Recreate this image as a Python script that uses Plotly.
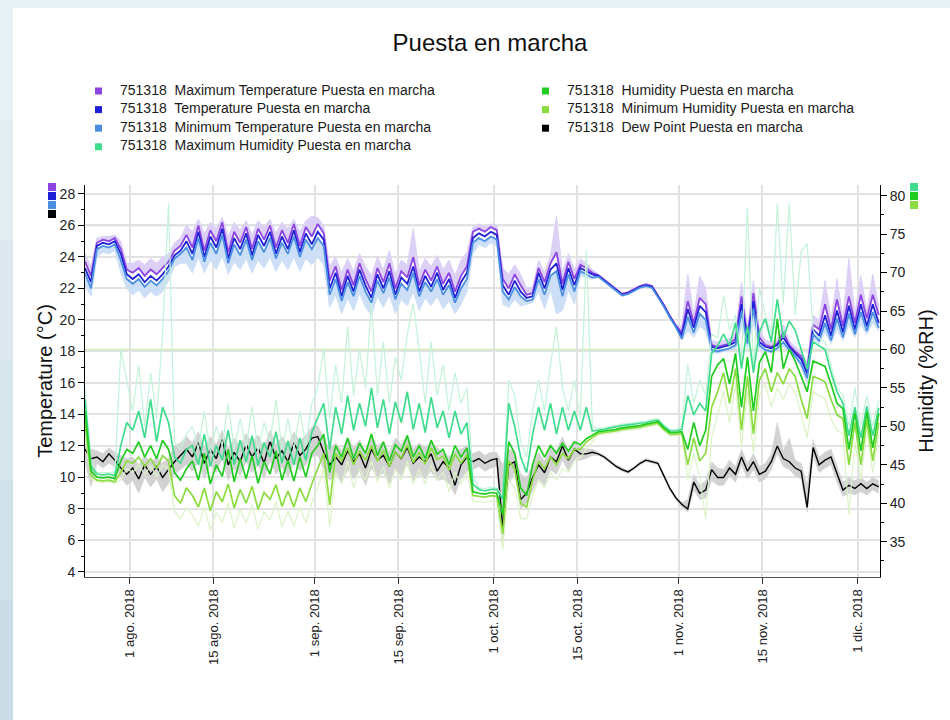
import pandas as pd
import plotly.graph_objects as go

# ---------------- data (daily readings, Jul 24 -> Dec 4, 2018) ----------------
dates = pd.date_range("2018-07-24 12:00", "2018-12-04 12:00", freq="D")

tick_dates = ["2018-08-01", "2018-08-15", "2018-09-01", "2018-09-15", "2018-10-01",
              "2018-10-15", "2018-11-01", "2018-11-15", "2018-12-01"]
tick_labels = ["1 ago. 2018", "15 ago. 2018", "1 sep. 2018", "15 sep. 2018", "1 oct. 2018",
               "15 oct. 2018", "1 nov. 2018", "15 nov. 2018", "1 dic. 2018"]

temperature = [
    23.3, 22.4, 24.7, 24.9, 24.8, 25.0, 24.2, 22.9,
    22.6, 22.9, 22.4, 22.8, 22.5, 22.9, 23.4, 24.1, 24.4, 25.0, 24.2, 25.6, 24.0, 25.3, 24.6, 25.8,
    23.9, 25.2, 24.5, 25.5, 24.1, 25.4, 24.7, 25.6, 24.2, 25.3, 24.5, 25.7, 24.3, 25.5, 24.8,
    25.6, 25.1, 22.0, 23.0, 21.5, 22.8, 21.8, 23.2, 22.2, 21.4, 22.9, 22.0, 23.1, 21.6, 22.7,
    22.3, 23.4, 21.8, 22.8, 22.1, 23.0, 21.9, 22.6, 21.4, 22.4, 23.0, 25.2, 25.5, 25.3, 25.6,
    25.4, 22.2, 21.6, 22.5, 21.8, 21.4, 21.5, 23.0, 22.0, 23.2, 23.6, 21.9, 23.3, 22.2, 23.3,
    23.1, 22.9, 22.8, 22.5, 22.2, 21.9, 21.6, 21.7, 21.9, 22.1, 22.2, 22.1, 21.5, 20.9, 20.2, 19.6,
    19.0, 20.7, 19.5, 20.9, 20.5, 18.3, 18.2, 18.3, 18.4, 18.6, 21.0, 18.8, 21.2, 18.6, 18.3,
    18.2, 18.4, 18.9, 18.3, 17.9, 17.5, 16.6, 19.4, 19.0, 20.3, 19.0, 20.6, 19.2, 20.9, 19.4,
    21.0, 19.6, 21.0, 19.8,
]
max_temperature = [
    23.7, 22.8, 24.9, 25.1, 25.0, 25.2, 24.5, 23.2,
    23.0, 23.3, 22.8, 23.2, 22.9, 23.3, 23.7, 24.4, 24.7, 25.4, 24.6, 26.0, 24.4, 25.7, 25.0, 26.2,
    24.3, 25.6, 24.9, 25.9, 24.5, 25.8, 25.1, 26.0, 24.6, 25.7, 24.9, 26.1, 24.7, 25.9, 25.3,
    26.1, 25.5, 22.5, 23.4, 21.9, 23.2, 22.2, 23.6, 22.6, 21.8, 23.3, 22.4, 23.6, 22.0, 23.1,
    22.7, 24.0, 22.2, 23.2, 22.5, 23.4, 22.3, 23.0, 21.8, 22.8, 23.4, 25.6, 25.8, 25.6, 25.9,
    25.7, 22.6, 22.0, 22.9, 22.2, 21.6, 21.7, 23.3, 22.4, 23.6, 24.3, 22.3, 23.7, 22.6, 23.5,
    23.3, 23.0, 22.85, 22.55, 22.25, 21.95, 21.65, 21.75, 21.95, 22.15, 22.25, 22.15, 21.55, 20.95, 20.25, 19.65,
    19.2, 21.2, 19.8, 21.4, 21.0, 18.4, 18.3, 18.4, 18.5, 18.8, 21.5, 19.0, 21.7, 18.9, 18.4,
    18.3, 18.5, 19.2, 18.4, 18.0, 17.7, 16.9, 19.7, 19.4, 21.0, 19.4, 21.3, 19.6, 21.5, 19.8,
    21.6, 20.1, 21.6, 20.3,
]
min_temperature = [
    23.0, 22.0, 24.5, 24.7, 24.6, 24.8, 23.8, 22.6,
    22.3, 22.6, 22.1, 22.5, 22.2, 22.6, 23.1, 23.9, 24.2, 24.6, 23.8, 25.2, 23.7, 24.9, 24.2, 25.4,
    23.6, 24.8, 24.1, 25.1, 23.8, 25.0, 24.3, 25.2, 23.9, 24.9, 24.2, 25.3, 24.0, 25.1, 24.5,
    25.2, 24.7, 21.6, 22.6, 21.2, 22.4, 21.5, 22.8, 21.8, 21.1, 22.5, 21.7, 22.7, 21.3, 22.3,
    21.9, 23.0, 21.5, 22.4, 21.8, 22.6, 21.6, 22.2, 21.1, 22.0, 22.6, 24.9, 25.2, 25.0, 25.3,
    25.1, 21.8, 21.3, 22.1, 21.5, 21.2, 21.3, 22.6, 21.6, 22.8, 23.1, 21.5, 22.9, 21.8, 23.1,
    22.9, 22.7, 22.75, 22.45, 22.15, 21.85, 21.55, 21.65, 21.85, 22.05, 22.15, 22.05, 21.45, 20.85, 20.15, 19.55,
    18.8, 20.2, 19.2, 20.4, 20.0, 18.1, 18.0, 18.1, 18.2, 18.4, 20.5, 18.5, 20.7, 18.4, 18.1,
    18.0, 18.2, 18.6, 18.1, 17.7, 17.2, 16.3, 19.1, 18.7, 19.8, 18.7, 20.1, 18.9, 20.4, 19.1,
    20.5, 19.3, 20.5, 19.5,
]
# extreme (within-day) temperature readings, drawn pale
temp_peak_high = [
    24.2, 23.4, 25.2, 25.3, 25.3, 25.4, 25.0, 23.6,
    23.6, 23.8, 23.5, 23.9, 23.6, 24.0, 24.2, 24.9, 25.2, 26.0, 25.6, 26.4, 25.5, 26.2, 25.8, 26.5,
    25.3, 26.2, 25.7, 26.3, 25.4, 26.3, 25.9, 26.4, 25.5, 26.2, 25.8, 26.4, 25.6, 26.3, 26.6,
    26.5, 26.0, 23.4, 24.0, 23.0, 23.9, 23.1, 24.2, 23.4, 22.8, 24.0, 23.2, 24.4, 22.9, 23.8,
    23.5, 25.8, 23.1, 23.9, 23.4, 24.1, 23.2, 23.8, 22.8, 23.8, 24.3, 25.9, 26.1, 25.9, 26.1,
    26.0, 23.3, 22.9, 23.5, 22.9, 22.0, 22.1, 23.8, 23.0, 24.1, 26.6, 23.0, 24.2, 23.2, 23.9,
    23.6, 23.2, 22.9, 22.6, 22.3, 22.0, 21.7, 21.8, 22.0, 22.2, 22.3, 22.2, 21.6, 21.0, 20.3, 19.7,
    19.6, 22.9, 20.3, 22.8, 22.0, 18.7, 18.6, 18.7, 18.8, 19.2, 22.4, 19.5, 22.5, 19.4, 18.7,
    18.6, 18.8, 19.7, 18.7, 18.3, 18.0, 17.3, 20.3, 20.0, 22.5, 20.0, 22.6, 20.2, 23.9, 20.4,
    22.8, 20.6, 22.9, 20.8,
]
temp_peak_low = [
    22.2, 21.5, 24.0, 24.3, 24.2, 24.4, 23.0, 22.0,
    21.6, 21.9, 21.4, 21.8, 21.5, 21.8, 22.5, 23.4, 23.6, 23.6, 23.0, 24.0, 23.0, 23.8, 23.2, 24.1,
    22.9, 23.7, 23.2, 23.9, 23.0, 23.8, 23.3, 24.0, 23.1, 23.8, 23.2, 24.0, 23.1, 23.9, 23.5,
    24.0, 23.5, 20.8, 21.6, 20.4, 21.4, 20.6, 21.7, 20.8, 20.3, 21.5, 20.8, 21.6, 20.4, 21.3,
    20.9, 21.8, 20.6, 21.4, 20.9, 21.5, 20.7, 21.2, 20.4, 21.0, 21.8, 24.2, 24.8, 24.6, 24.9,
    24.7, 21.0, 20.8, 21.3, 20.9, 21.0, 21.1, 21.8, 20.7, 21.9, 20.4, 20.6, 21.9, 21.0, 22.8,
    22.7, 22.6, 22.7, 22.4, 22.1, 21.8, 21.5, 21.6, 21.8, 22.0, 22.1, 22.0, 21.4, 20.8, 20.1, 19.5,
    18.7, 19.3, 18.9, 19.6, 19.3, 17.9, 17.9, 18.0, 18.1, 18.1, 19.6, 18.2, 19.8, 18.1, 18.0,
    17.9, 18.1, 18.3, 18.0, 17.6, 17.0, 16.0, 18.8, 18.5, 19.2, 18.5, 19.4, 18.7, 19.7, 18.9,
    19.7, 19.1, 19.8, 19.3,
]

humidity = [
    52.0, 44.2, 43.4, 43.3, 43.4, 43.2, 45.5, 47.0,
    46.5, 48.0, 46.0, 47.5, 45.8, 48.2, 47.0, 44.0, 43.0, 44.5, 45.5, 43.0, 46.5, 42.5, 45.0, 43.5,
    47.0, 42.8, 45.8, 43.2, 46.2, 42.6, 45.4, 43.8, 46.8, 43.0, 45.6, 42.9, 46.0, 43.4, 46.5,
    47.5, 49.0, 44.0, 47.5, 46.0, 48.5, 45.8, 47.8, 46.5, 49.0, 46.2, 48.0, 45.5, 47.6, 46.8,
    48.8, 46.0, 47.5, 45.8, 48.2, 46.4, 47.0, 45.0, 47.5, 46.0, 47.2, 41.5, 41.3, 41.2, 41.4,
    41.3, 38.5, 48.0, 46.5, 42.0, 41.0, 45.0, 47.5, 46.0, 47.5, 46.5, 47.8, 46.8, 48.0, 47.6,
    48.4, 48.8, 49.3, 49.4, 49.5, 49.6, 49.8, 49.9, 50.0, 50.1, 50.3, 50.5, 50.6, 49.8, 49.2, 49.2,
    49.3, 47.0, 50.5, 47.5, 49.5, 56.5, 58.0, 58.8, 55.5, 59.5, 52.5, 59.0, 52.0, 58.3, 59.7,
    57.0, 64.0, 57.5, 60.0, 58.5, 56.5, 54.5, 58.5, 58.2, 57.8, 55.5, 53.0, 52.3, 47.0, 51.8,
    46.8, 51.9, 47.2, 51.7,
]
max_humidity = [
    53.5, 44.8, 43.8, 43.7, 43.8, 43.6, 47.5, 50.5,
    49.5, 52.0, 48.5, 53.5, 48.0, 52.5, 50.5, 46.0, 45.2, 47.0, 47.5, 45.0, 49.0, 44.8, 47.5, 45.6,
    49.5, 45.0, 48.2, 45.4, 48.8, 44.9, 47.9, 46.0, 49.3, 45.2, 48.1, 45.0, 48.5, 45.6, 49.2,
    51.0, 53.0, 47.0, 52.5, 49.0, 54.0, 49.5, 53.0, 50.0, 55.0, 49.8, 53.5, 49.0, 53.2, 50.5,
    54.5, 49.6, 53.0, 49.2, 53.8, 49.8, 52.0, 48.5, 52.0, 49.0, 50.5, 42.5, 41.8, 41.6, 41.8,
    41.8, 40.5, 53.0, 50.0, 46.0, 44.0, 49.0, 52.5, 49.5, 53.0, 49.0, 52.5, 49.5, 52.0, 49.5,
    52.5, 49.4, 49.5, 49.6, 49.8, 50.0, 50.1, 50.2, 50.3, 50.4, 50.5, 50.7, 50.8, 50.0, 49.4, 49.4,
    49.6, 54.0, 51.5, 53.0, 52.0, 59.5, 60.5, 62.0, 60.5, 63.5, 57.5, 63.0, 57.0, 62.3, 64.0,
    61.0, 66.5, 61.5, 63.7, 62.5, 60.0, 57.5, 61.0, 60.5, 60.0, 57.0, 54.5, 53.0, 48.8, 52.5,
    48.5, 52.6, 48.8, 52.4,
]
min_humidity = [
    50.5, 43.6, 43.0, 42.9, 43.0, 42.8, 44.0, 45.5,
    45.2, 46.0, 44.8, 45.8, 44.5, 46.2, 45.5, 41.0, 40.0, 42.0, 41.0, 39.5, 42.0, 39.0, 41.5, 40.2,
    42.5, 39.4, 41.8, 40.0, 42.2, 39.2, 41.4, 40.5, 42.4, 39.6, 41.6, 39.5, 42.0, 40.2, 42.5,
    44.5, 46.5, 39.8, 46.5, 45.5, 47.2, 45.0, 46.8, 45.6, 47.5, 45.5, 46.9, 44.8, 46.6, 45.9,
    47.6, 45.3, 46.6, 45.1, 47.2, 45.7, 46.1, 44.3, 46.4, 45.2, 46.3, 41.0, 40.9, 40.8, 41.0,
    40.9, 36.0, 45.5, 44.5, 40.0, 39.5, 43.0, 45.5, 44.5, 46.0, 45.0, 46.5, 45.8, 47.0, 47.0,
    48.0, 48.5, 49.1, 49.2, 49.3, 49.4, 49.6, 49.7, 49.8, 49.9, 50.1, 50.3, 50.4, 49.6, 49.0, 49.0,
    49.1, 45.0, 48.5, 45.5, 46.5, 52.5, 54.5, 57.0, 53.0, 57.5, 49.5, 56.5, 49.0, 56.0, 57.5,
    54.5, 57.0, 55.5, 57.5, 56.5, 53.5, 51.0, 56.5, 56.2, 55.8, 53.5, 51.5, 51.0, 45.0, 50.5,
    45.0, 50.8, 45.5, 50.5,
]
# extreme (within-day) humidity readings, drawn pale
hum_peak_high = [
    55.0, 45.5, 44.0, 44.0, 44.0, 43.9, 60.0, 56.0,
    52.0, 58.0, 50.0, 57.0, 51.0, 62.0, 79.0, 48.0, 47.0, 49.0, 50.0, 47.0, 52.0, 46.5, 50.0, 47.5,
    53.0, 47.0, 51.0, 47.2, 52.5, 46.8, 50.5, 48.0, 53.5, 47.0, 51.0, 47.0, 52.0, 47.5, 53.0,
    55.0, 60.0, 51.0, 58.0, 53.0, 63.0, 54.0, 60.0, 55.0, 66.0, 54.0, 61.0, 53.0, 59.0, 56.0,
    62.0, 66.0, 60.0, 53.0, 61.0, 54.0, 58.0, 52.0, 57.0, 53.0, 55.0, 43.5, 42.0, 41.9, 42.1,
    42.0, 41.0, 56.0, 54.0, 48.0, 46.0, 52.0, 56.0, 52.0, 58.0, 63.0, 55.0, 52.0, 56.0, 51.0,
    73.0, 50.0, 49.7, 49.8, 50.0, 50.2, 50.3, 50.4, 50.5, 50.6, 50.7, 50.9, 51.0, 50.2, 49.6, 49.6,
    50.0, 58.0, 53.0, 56.0, 54.0, 62.0, 61.5, 67.0, 62.5, 64.5, 58.5, 78.5, 57.5, 68.0, 64.5,
    62.0, 79.0, 66.0, 79.0, 64.5, 72.7, 73.8, 62.5, 61.5, 61.0, 58.0, 55.0, 54.0, 50.0, 55.0,
    50.0, 54.0, 50.0, 53.5,
]
hum_peak_low = [
    49.0, 43.2, 42.8, 42.7, 42.8, 42.6, 43.0, 44.5,
    44.0, 45.0, 43.8, 44.8, 43.5, 45.0, 44.5, 39.0, 38.0, 39.5, 38.5, 37.0, 39.5, 36.5, 38.8, 37.5,
    40.0, 36.8, 39.2, 37.4, 39.8, 36.6, 38.9, 37.8, 40.2, 36.9, 39.0, 37.0, 39.5, 37.5, 40.0,
    42.0, 44.5, 37.0, 44.0, 42.5, 45.5, 42.0, 44.5, 43.0, 45.5, 42.8, 44.8, 42.0, 44.5, 43.0,
    45.5, 42.5, 44.5, 42.5, 45.0, 43.0, 44.0, 41.5, 44.0, 42.5, 44.0, 40.2, 40.2, 40.1, 40.3,
    40.2, 34.0, 43.0, 42.0, 38.0, 38.0, 41.0, 43.0, 42.0, 44.0, 43.0, 44.5, 44.0, 45.5, 46.0,
    47.0, 48.0, 48.9, 49.0, 49.1, 49.2, 49.4, 49.5, 49.6, 49.7, 49.9, 50.1, 50.2, 49.4, 48.8, 48.8,
    48.9, 43.0, 46.5, 43.5, 38.0, 48.5, 51.5, 54.5, 50.5, 55.5, 47.5, 54.5, 46.5, 54.0, 55.5,
    52.5, 55.0, 53.5, 55.5, 54.5, 51.5, 48.5, 54.5, 54.0, 53.5, 51.0, 49.5, 49.0, 38.5, 48.0,
    43.0, 49.5, 44.0, 49.0,
]

dew_point = [
    11.8, 11.2, 11.3, 11.0, 11.5, 11.1, 10.6, 10.2,
    10.6, 9.9, 10.8, 10.2, 10.7, 10.0, 10.5, 11.0, 11.4, 11.8, 11.3, 12.2, 10.9, 11.8, 11.2, 12.4,
    10.8, 11.6, 11.0, 12.1, 11.3, 11.9, 10.9, 12.3, 11.2, 11.7, 11.0, 12.2, 11.4, 11.8, 12.5,
    12.6, 11.6, 10.8, 11.3, 10.8, 11.7, 11.0, 11.5, 10.6, 11.8, 11.1, 11.4, 10.7, 11.6, 11.2,
    11.9, 10.9, 11.3, 11.0, 11.5, 10.4, 11.0, 10.6, 9.5, 10.8, 11.3, 11.0, 11.2, 10.9, 11.1,
    11.2, 6.8, 10.8, 11.0, 8.6, 9.0, 10.0, 10.8, 10.3, 11.3, 11.0, 12.0, 11.1, 11.8, 11.5,
    11.5, 11.6, 11.5, 11.3, 11.0, 10.7, 10.5, 10.35, 10.6, 10.9, 11.1, 11.0, 10.9, 10.1, 9.3, 8.7,
    8.3, 8.0, 9.7, 9.0, 9.2, 10.5, 10.0, 10.0, 10.6, 10.2, 11.3, 10.4, 11.0, 10.2, 10.4,
    11.0, 12.0, 11.2, 11.0, 10.6, 10.4, 8.1, 11.9, 10.8, 11.1, 11.3, 10.2, 9.2, 9.5, 9.3,
    9.6, 9.3, 9.6, 9.4,
]
dew_peak_high = [
    12.2, 11.8, 11.7, 11.5, 11.9, 11.6, 11.4, 11.2,
    11.3, 10.8, 11.4, 11.0, 11.3, 10.9, 11.2, 12.0, 12.2, 12.6, 12.2, 12.9, 11.9, 12.6, 12.1, 13.0,
    11.8, 12.5, 12.0, 12.8, 12.2, 12.7, 11.9, 13.0, 12.1, 12.6, 12.0, 12.9, 12.3, 12.7, 13.2,
    13.3, 12.5, 11.8, 12.2, 11.7, 12.5, 11.9, 12.4, 11.6, 12.6, 12.0, 12.3, 11.6, 12.5, 12.1,
    12.7, 11.8, 12.2, 11.9, 12.2, 11.9, 11.6, 11.3, 11.7, 11.8, 12.0, 11.5, 11.7, 11.4, 11.6,
    11.6, 10.8, 11.8, 11.6, 10.2, 10.0, 10.8, 11.6, 11.0, 12.0, 11.7, 12.6, 11.7, 12.3, 11.9,
    11.8, 11.8, 11.6, 11.4, 11.1, 10.8, 10.6, 10.45, 10.7, 11.0, 11.2, 11.1, 11.0, 10.2, 9.4, 8.8,
    8.4, 8.6, 10.2, 9.5, 9.8, 11.0, 10.6, 10.5, 11.1, 10.7, 11.8, 10.9, 11.5, 10.7, 10.9,
    11.5, 13.5, 11.7, 12.5, 11.1, 10.9, 9.5, 12.4, 11.3, 11.6, 11.8, 10.7, 9.7, 10.0, 9.8,
    10.0, 9.7, 10.0, 9.8,
]
dew_peak_low = [
    11.0, 9.4, 10.9, 10.6, 10.9, 10.7, 10.0, 9.5,
    9.8, 9.0, 10.0, 9.4, 9.9, 9.1, 9.6, 10.2, 10.5, 10.8, 10.4, 11.0, 9.9, 10.8, 10.3, 11.2,
    9.8, 10.6, 10.1, 11.0, 10.3, 10.8, 9.9, 11.1, 10.2, 10.7, 10.0, 11.0, 10.4, 10.8, 11.3,
    11.4, 10.5, 9.8, 10.2, 9.7, 10.5, 9.9, 10.4, 9.5, 10.6, 10.0, 10.3, 9.6, 10.5, 10.1,
    10.8, 9.8, 10.2, 9.9, 10.4, 9.8, 9.9, 9.6, 8.9, 9.9, 10.4, 10.5, 10.7, 10.4, 10.6,
    10.7, 6.0, 9.6, 10.3, 8.0, 8.4, 9.2, 9.9, 9.5, 10.5, 10.2, 11.1, 10.4, 11.1, 11.1,
    11.2, 11.4, 11.4, 11.2, 10.9, 10.6, 10.4, 10.25, 10.5, 10.8, 11.0, 10.9, 10.8, 10.0, 9.2, 8.6,
    8.1, 7.8, 9.2, 8.6, 8.7, 9.8, 9.5, 9.5, 10.1, 9.7, 10.8, 9.9, 10.5, 9.7, 9.9,
    10.5, 11.5, 10.7, 10.5, 10.1, 9.9, 7.8, 11.4, 10.3, 10.6, 10.8, 9.7, 8.8, 9.0, 8.9,
    9.1, 8.9, 9.2, 9.0,
]

for _name, _vals in [
        ("temperature", temperature), ("max_temperature", max_temperature),
        ("min_temperature", min_temperature), ("temp_peak_high", temp_peak_high),
        ("temp_peak_low", temp_peak_low), ("humidity", humidity),
        ("max_humidity", max_humidity), ("min_humidity", min_humidity),
        ("hum_peak_high", hum_peak_high), ("hum_peak_low", hum_peak_low),
        ("dew_point", dew_point), ("dew_peak_high", dew_peak_high),
        ("dew_peak_low", dew_peak_low)]:
    assert len(_vals) == len(dates), (_name, len(_vals), len(dates))

# ---------------- styling ----------------
FONT = "Liberation Sans, Arial, sans-serif"
C_TMAX, C_T, C_TMIN = "#8c45e3", "#1f1fd6", "#4b8fe3"
C_HMAX, C_H, C_HMIN = "#3fdc8e", "#1fcc1f", "#8bdc40"
C_DP = "#000000"
P_TMAX, P_TMIN = "#ddd0f6", "#cddff6"
P_HMAX, P_HMIN = "#c4f3da", "#dcf3c6"
P_DP = "#d2d2d2"

W, H = 950, 720
L, R, T, B = 85, 880, 185, 577


def fx(px):
    return (px - L) / (R - L)


def fy(py):
    return (B - py) / (B - T)


fig = go.Figure()


def line(y, color, width, axis="y", **kw):
    fig.add_trace(go.Scatter(x=dates, y=y, mode="lines", yaxis=axis,
                             line=dict(color=color, width=width),
                             showlegend=False, hoverinfo="skip", **kw))


# pale extremes (behind everything)
line(hum_peak_high, P_HMAX, 1.2, "y2")
line(hum_peak_low, P_HMIN, 1.2, "y2")
line(temp_peak_low, P_TMIN, 1)
line(min_temperature, "rgba(0,0,0,0)", 0, fill="tonexty", fillcolor=P_TMIN)
line(max_temperature, "rgba(0,0,0,0)", 0)
line(temp_peak_high, P_TMAX, 1, fill="tonexty", fillcolor=P_TMAX)
line(dew_peak_low, P_DP, 0.6)
line(dew_peak_high, P_DP, 0.6, fill="tonexty", fillcolor=P_DP)
# humidity group (right axis)
line(max_humidity, C_HMAX, 1.7, "y2")
line(min_humidity, C_HMIN, 1.7, "y2")
line(humidity, C_H, 1.7, "y2")
# dew point
line(dew_point, C_DP, 1.4)
# temperature group (left axis)
line(max_temperature, C_TMAX, 1.8)
line(temperature, C_T, 1.8)
line(min_temperature, C_TMIN, 1.8)

shapes = []
# window frame: pale blue strip on the left (darker towards the bottom), white page
frame_steps = ["#e8f1f4", "#e3edf2", "#dde9ef", "#d7e5ec", "#d1e1e9", "#cbdde6"]
for i, c in enumerate(frame_steps):
    shapes.append(dict(type="rect", xref="paper", yref="paper", x0=fx(-5), x1=fx(13),
                       y0=fy(120 * (i + 1) + 2), y1=fy(120 * i), fillcolor=c,
                       line=dict(width=0), layer="below"))
shapes += [
    dict(type="rect", xref="paper", yref="paper", x0=fx(13), x1=fx(960),
         y0=fy(730), y1=fy(8), fillcolor="white", line=dict(width=0), layer="below"),
    # threshold lines
    dict(type="line", xref="x domain", yref="y", x0=0, x1=1, y0=26, y1=26,
         line=dict(color="#b4d6f2", width=1.5), layer="below"),
    dict(type="line", xref="x domain", yref="y2", x0=0, x1=1, y0=60, y1=60,
         line=dict(color="#cdeebb", width=1.5), layer="below"),
]
# axis colour keys
for i, c in enumerate([C_TMAX, C_T, C_TMIN, C_DP]):
    y0 = 183 + i * 9
    shapes.append(dict(type="rect", xref="paper", yref="paper", x0=fx(48), x1=fx(56),
                       y0=fy(y0 + 8), y1=fy(y0), fillcolor=c, line=dict(width=0)))
for i, c in enumerate([C_HMAX, C_H, C_HMIN]):
    y0 = 183 + i * 9
    shapes.append(dict(type="rect", xref="paper", yref="paper", x0=fx(910), x1=fx(918),
                       y0=fy(y0 + 8), y1=fy(y0), fillcolor=c, line=dict(width=0)))

# legend (two columns)
legend_items = [
    (95, 118, 0, C_TMAX, "Maximum Temperature Puesta en marcha"),
    (95, 118, 1, C_T, "Temperature Puesta en marcha"),
    (95, 118, 2, C_TMIN, "Minimum Temperature Puesta en marcha"),
    (95, 118, 3, C_HMAX, "Maximum Humidity Puesta en marcha"),
    (542, 565, 0, C_H, "Humidity Puesta en marcha"),
    (542, 565, 1, C_HMIN, "Minimum Humidity Puesta en marcha"),
    (542, 565, 2, C_DP, "Dew Point Puesta en marcha"),
]
annotations = []
for sx, tx, row, c, name in legend_items:
    cy = 91 + row * 18.6
    shapes.append(dict(type="rect", xref="paper", yref="paper", x0=fx(sx), x1=fx(sx + 7),
                       y0=fy(cy + 3.5), y1=fy(cy - 3.5), fillcolor=c, line=dict(width=0)))
    annotations.append(dict(xref="paper", yref="paper", x=fx(tx), y=fy(cy - 1.5),
                            xanchor="left", yanchor="middle", showarrow=False,
                            text="751318\u00a0 " + name,
                            font=dict(family=FONT, size=14, color="#1a1a1a")))

axis_common = dict(ticks="outside", ticklen=6, tickcolor="black", showline=True,
                   linecolor="black", linewidth=1, zeroline=False,
                   tickfont=dict(family=FONT, size=14, color="#222"))

fig.update_layout(
    width=W, height=H,
    margin=dict(l=L, r=W - R, t=T, b=H - B),
    paper_bgcolor="#e8f1f4", plot_bgcolor="white",
    showlegend=False,
    font=dict(family=FONT, size=14, color="#222"),
    title=dict(text="Puesta en marcha", xref="container", yref="container",
               x=490 / W, xanchor="center", y=1 - 43 / H, yanchor="middle",
               font=dict(family=FONT, size=24, color="#111")),
    xaxis=dict(type="date", range=["2018-07-24 12:00", "2018-12-04 17:00"],
               tickmode="array", tickvals=tick_dates, ticktext=tick_labels, tickangle=-90,
               ticks="outside", ticklen=6, tickcolor="#333", showline=True, linecolor="#555",
               linewidth=1, showgrid=True, gridcolor="#e2e2e2", gridwidth=1.5, zeroline=False,
               tickfont=dict(family=FONT, size=13, color="#222")),
    yaxis=dict(range=[3.68, 28.57], tick0=0, dtick=2, showgrid=True, gridcolor="#e2e2e2",
               gridwidth=1.5,
               minor=dict(tick0=0, dtick=1, ticks="outside", ticklen=3, tickcolor="black",
                          showgrid=False),
               title=dict(text="Temperature (°C)", standoff=1,
                          font=dict(family=FONT, size=20, color="#111")),
               **axis_common),
    yaxis2=dict(range=[30.41, 81.39], overlaying="y", side="right", anchor="x",
                tick0=0, dtick=5, showgrid=False,
                minor=dict(tick0=0, dtick=2.5, ticks="outside", ticklen=3, tickcolor="black",
                           showgrid=False),
                title=dict(text="Humidity (%RH)", standoff=14,
                           font=dict(family=FONT, size=20, color="#111")),
                **axis_common),
    shapes=shapes,
    annotations=annotations,
)

fig.write_html("out.html", config={"displayModeBar": False},
               post_script="document.body.style.margin='0';"
                           "document.body.style.background='#e8f1f4';")
